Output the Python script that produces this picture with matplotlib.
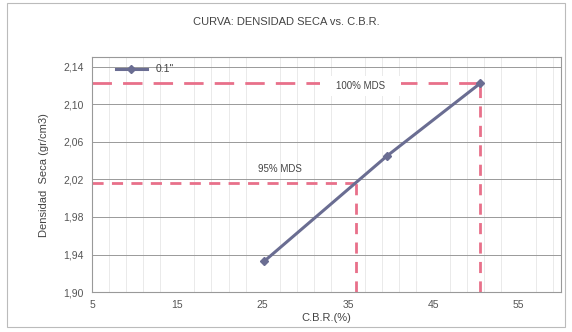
import numpy as np
import matplotlib
matplotlib.use('Agg')
import matplotlib.pyplot as plt

# data
cbr = [25.2, 39.6, 50.5]
dens = [1.933, 2.045, 2.122]
mds95 = (36.0, 2.016)
mds100 = (50.5, 2.122)
xticks = [5, 15, 25, 35, 45, 55]
yticks = [1.90, 1.94, 1.98, 2.02, 2.06, 2.10, 2.14]

plt.rc('font', family='Liberation Sans')
fig = plt.figure(figsize=(5.72, 3.32), dpi=100)
ax = fig.add_axes([0.161, 0.12, 0.82, 0.708])

ax.set_xlim(5, 60)
ax.set_ylim(1.90, 2.15)
ax.set_xticks(xticks)
ax.set_yticks(yticks)
ax.set_yticklabels([('%.2f' % v).replace('.', ',') for v in yticks])
ax.set_xticks(np.arange(5, 61, 2), minor=True)
ax.tick_params(axis='both', which='both', length=0, labelsize=7.5, colors='#555555', pad=6)
ax.grid(True, which='minor', axis='x', color='#e6e6e6', lw=0.6)
ax.grid(True, which='major', axis='y', color='#999999', lw=0.7)
ax.set_axisbelow(True)
for s in ax.spines.values():
    s.set_color('#999999')
    s.set_linewidth(0.8)

red = '#e8708a'
# 95% MDS guides
ax.plot([5, mds95[0]], [mds95[1], mds95[1]], color=red, lw=2, dashes=(4, 3))
ax.plot([mds95[0], mds95[0]], [1.90, mds95[1]], color=red, lw=2, dashes=(4, 3))
# 100% MDS guides
ax.plot([5, mds100[0]], [mds100[1], mds100[1]], color=red, lw=2, dashes=(7, 4))
ax.plot([mds100[0], mds100[0]], [1.90, mds100[1]], color=red, lw=2, dashes=(4, 3))

ax.text(36.5, 2.1195, '    100% MDS    ', fontsize=7, color='#444444', ha='center', va='center',
        bbox=dict(facecolor='white', edgecolor='none', pad=3.5), zorder=5)
ax.text(27.0, 2.031, '95% MDS', fontsize=7, color='#444444', ha='center', va='center')

ax.plot(cbr, dens, color='#6a6d92', lw=2.2, marker='D', ms=4, label='0.1"')
ax.legend(loc='upper left', bbox_to_anchor=(0.035, 1.0), frameon=False, fontsize=7.5,
          handlelength=3, borderaxespad=0.3, labelcolor='#444444')

ax.set_xlabel('C.B.R.(%)', fontsize=8, color='#444444', labelpad=2)
ax.set_ylabel('Densidad  Seca (gr/cm3)', fontsize=8, color='#444444', labelpad=10)
fig.text(0.5, 0.935, 'CURVA: DENSIDAD SECA vs. C.B.R.', ha='center', va='center',
         fontsize=8, color='#444444')

fig.patches.append(plt.Rectangle((0.012, 0.015), 0.975, 0.975, transform=fig.transFigure,
                                 fill=False, edgecolor='#bbbbbb', lw=0.8))

fig.savefig('out.png', dpi=100)
